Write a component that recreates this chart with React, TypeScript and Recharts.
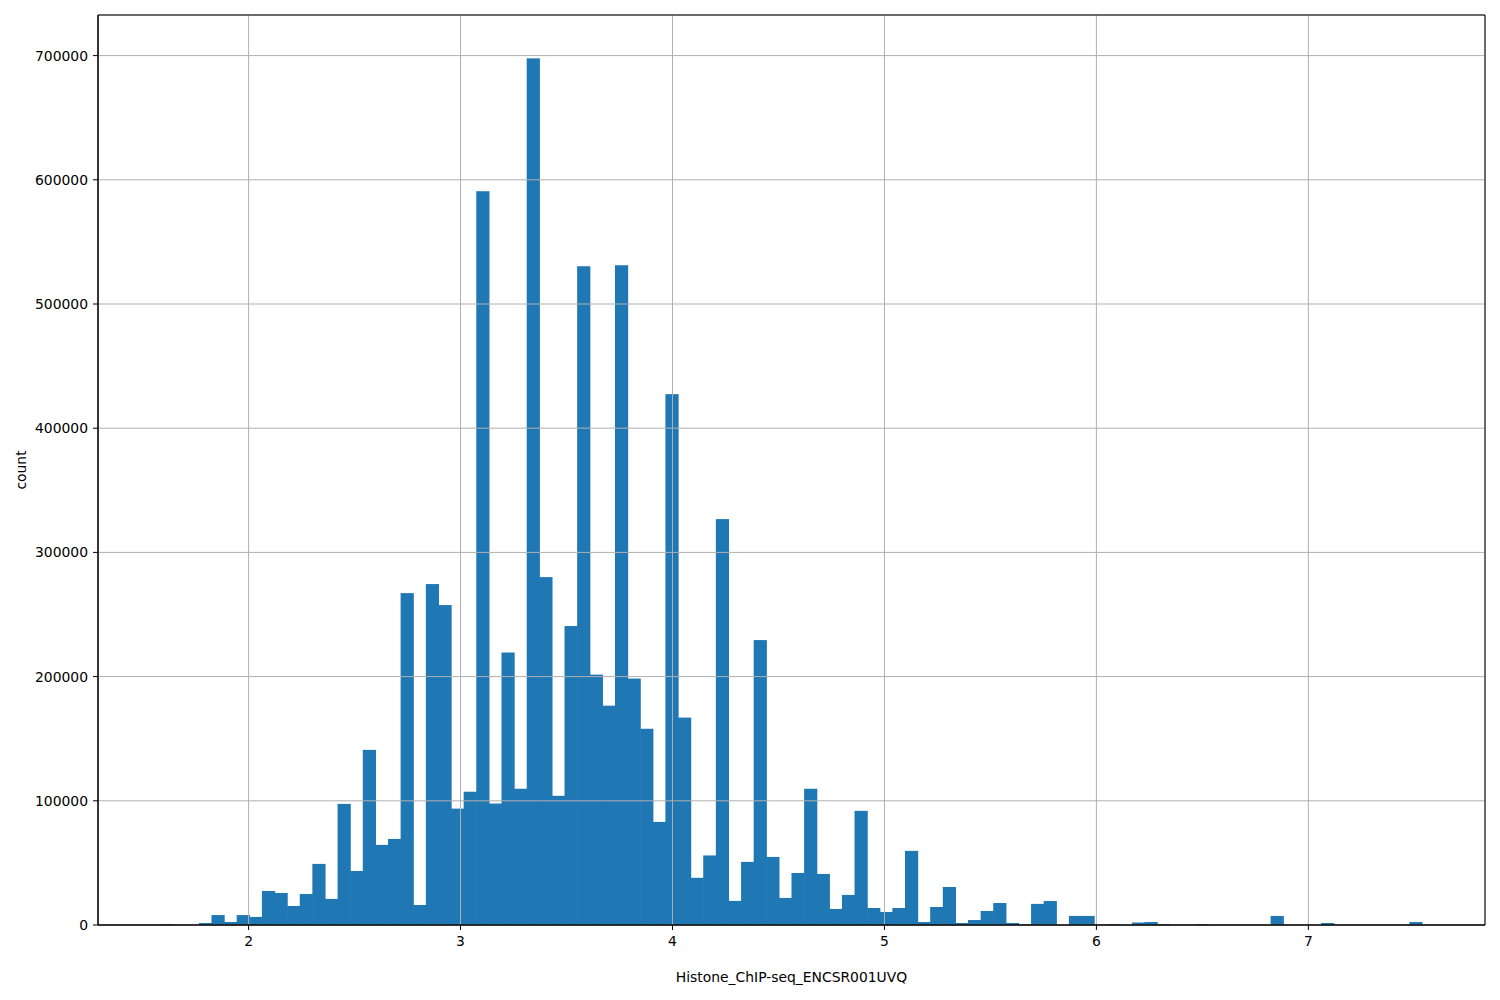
import React from 'react';
import { ComposedChart, Bar, XAxis, YAxis, CartesianGrid, ReferenceArea, Label } from 'recharts';

// Histogram: 100 equal-width bins between the data minimum and maximum
const BIN_MIN = 1.587;
const BIN_MAX = 7.536;

const counts = [
  800, 0, 0, 1600, 8000, 2400, 8000, 6500, 27400, 25800,
  15300, 25000, 49200, 21000, 97500, 43500, 141000, 64500, 69300, 267200,
  16100, 274500, 257600, 93700, 107300, 590800, 97800, 219400, 109700, 697800,
  280100, 104000, 240700, 530400, 201600, 176600, 531200, 198400, 158000, 83000,
  427400, 167000, 38000, 56000, 326800, 19400, 50800, 229400, 54800, 21800,
  41900, 109700, 41100, 12900, 24200, 91900, 13700, 10500, 13700, 59700,
  2400, 14500, 30600, 1600, 4000, 11300, 17700, 1600, 500, 17000,
  19300, 0, 7300, 7300, 0, 800, 0, 2000, 2400, 800,
  0, 0, 800, 0, 0, 0, 0, 0, 7300, 0,
  0, 0, 1600, 0, 0, 0, 0, 0, 0, 2400,
];

const xTicks = [2, 3, 4, 5, 6, 7];
const yTicks = [0, 100000, 200000, 300000, 400000, 500000, 600000, 700000];
const xLabel = 'Histone_ChIP-seq_ENCSR001UVQ';
const yLabel = 'count';

const binWidth = (BIN_MAX - BIN_MIN) / counts.length;
const data = counts.map((c, i) => ({ x: BIN_MIN + (i + 0.5) * binWidth, count: c }));
const span = BIN_MAX - BIN_MIN;
const xDomain: [number, number] = [BIN_MIN - 0.05 * span, BIN_MAX + 0.05 * span];
const yDomain: [number, number] = [0, Math.max(...counts) * 1.05];

const FONT = 'DejaVu Sans';
const BAR_COLOR = '#1f77b4';
const tickStyle = { fill: '#000', fontSize: 13.9, fontFamily: FONT };

// Bars are drawn edge to edge; a tiny overlap into the next bin hides anti-aliasing seams.
const HistBar = (p: any) => {
  if (!p.height || p.height <= 0) return null;
  return <rect x={p.x} y={p.y} width={p.width + 0.6} height={p.height} fill={BAR_COLOR} />;
};

export default function App() {
  return (
    <div style={{ position: 'absolute', left: 0, top: 0, background: '#fff', fontFamily: FONT }}>
      <ComposedChart
        width={1500}
        height={1000}
        data={data}
        margin={{ top: 15, right: 15, bottom: 0, left: 0 }}
        barCategoryGap={0}
        barGap={0}
      >
        <XAxis
          dataKey="x"
          type="number"
          domain={xDomain}
          allowDataOverflow
          ticks={xTicks}
          interval={0}
          height={75}
          tickSize={5}
          tickMargin={6}
          axisLine={{ stroke: '#000', strokeWidth: 1 }}
          tickLine={{ stroke: '#000', strokeWidth: 1 }}
          tick={tickStyle}
        >
          <Label
            content={(props: any) => {
              const vb = props.viewBox || {};
              return (
                <text
                  x={vb.x + vb.width / 2}
                  y={vb.y + 57.3}
                  textAnchor="middle"
                  fontSize={13.9}
                  fontFamily={FONT}
                  fill="#000"
                >
                  {xLabel}
                </text>
              );
            }}
          />
        </XAxis>
        <YAxis
          type="number"
          domain={yDomain}
          allowDataOverflow
          ticks={yTicks}
          interval={0}
          width={98}
          tickSize={5}
          tickMargin={5}
          axisLine={{ stroke: '#000', strokeWidth: 1 }}
          tickLine={{ stroke: '#000', strokeWidth: 1 }}
          tick={tickStyle}
        >
          <Label
            content={(props: any) => {
              const vb = props.viewBox || {};
              const cx = vb.x + 26;
              const cy = vb.y + vb.height / 2;
              return (
                <text
                  x={cx}
                  y={cy}
                  transform={`rotate(-90, ${cx}, ${cy})`}
                  textAnchor="middle"
                  fontSize={13.9}
                  fontFamily={FONT}
                  fill="#000"
                >
                  {yLabel}
                </text>
              );
            }}
          />
        </YAxis>
        <Bar
          dataKey="count"
          fill={BAR_COLOR}
          barSize={12.6}
          shape={HistBar}
          isAnimationActive={false}
        />
        <CartesianGrid stroke="#b0b0b0" strokeWidth={1} zIndex={400} />
        <ReferenceArea
          x1={xDomain[0]}
          x2={xDomain[1]}
          y1={yDomain[0]}
          y2={yDomain[1]}
          fill="none"
          fillOpacity={0}
          stroke="#000"
          strokeWidth={1}
          zIndex={600}
        />
      </ComposedChart>
    </div>
  );
}
